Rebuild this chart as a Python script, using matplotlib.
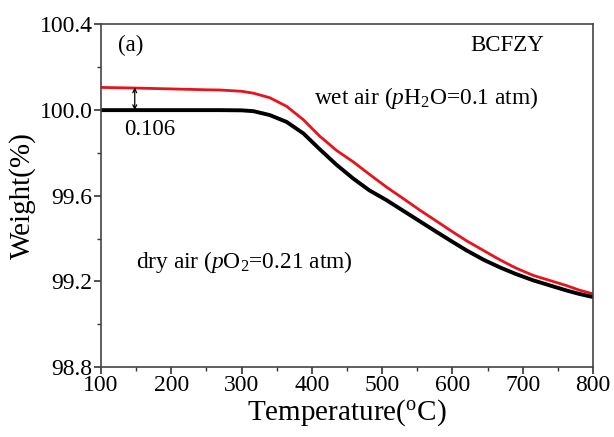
import numpy as np
import matplotlib
matplotlib.use('Agg')
import matplotlib.pyplot as plt
from matplotlib.ticker import MultipleLocator

plt.rcParams['font.family'] = 'Liberation Serif'
plt.rcParams['mathtext.fontset'] = 'custom'
plt.rcParams['mathtext.rm'] = 'Liberation Serif'
plt.rcParams['mathtext.it'] = 'Liberation Serif:italic'

temp_dry = [100, 200, 269, 300, 317, 340, 364, 388, 411, 435, 459, 482, 506, 530, 554,
            578, 600, 620, 645, 668, 690, 715, 740, 762, 780, 800]
weight_dry = [100.0, 100.0, 100.0, 99.999, 99.995, 99.977, 99.945, 99.891, 99.818, 99.745,
              99.68, 99.625, 99.58, 99.53, 99.48, 99.43, 99.385, 99.345, 99.30, 99.265,
              99.235, 99.205, 99.18, 99.158, 99.142, 99.127]
temp_wet = [100, 150, 200, 250, 269, 300, 317, 340, 364, 388, 411, 435, 459, 482, 506,
            530, 554, 578, 600, 620, 645, 668, 690, 715, 740, 762, 780, 800]
weight_wet = [100.106, 100.103, 100.099, 100.095, 100.094, 100.088, 100.079, 100.058,
              100.018, 99.955, 99.879, 99.812, 99.758, 99.70, 99.641, 99.587, 99.532,
              99.48, 99.432, 99.39, 99.343, 99.30, 99.263, 99.228, 99.203, 99.181,
              99.16, 99.142]
gap = 0.106

fig = plt.figure(figsize=(6.14, 4.37), dpi=100)
ax = fig.add_axes([0.1645, 0.160, 0.8013, 0.784])

ax.plot(temp_wet, weight_wet, color='#e8131b', lw=2.0)
ax.plot(temp_dry, weight_dry, color='black', lw=2.8)

ax.annotate('', xy=(148, 100.0), xytext=(148, 100.0 + gap),
            arrowprops=dict(arrowstyle='<->', color='black', lw=0.9,
                            shrinkA=0, shrinkB=0, mutation_scale=7))
ax.text(133, 99.91, '%.3f' % gap, fontsize=16.5, va='center')
ax.text(124, 100.304, '(a)', fontsize=16.5, va='center')
ax.text(731, 100.304, 'BCFZY', fontsize=16.5, va='center', ha='right')
ax.text(403, 100.056, r'wet air ($p$H$_2$O=0.1 atm)', fontsize=16.8, va='center')
ax.text(150, 99.289, r'dry air ($p$O$_2$=0.21 atm)', fontsize=16.8, va='center')

ax.set_xlim(100, 800)
ax.set_ylim(98.8, 100.4)
ax.xaxis.set_major_locator(MultipleLocator(100))
ax.xaxis.set_minor_locator(MultipleLocator(50))
ax.yaxis.set_major_locator(MultipleLocator(0.4))
ax.yaxis.set_minor_locator(MultipleLocator(0.2))
ax.yaxis.set_major_formatter(plt.FormatStrFormatter('%.1f'))
ax.tick_params(which='major', direction='out', length=5, width=1.2, labelsize=17,
               colors='#333333', labelcolor='black', pad=1)
ax.tick_params(which='minor', direction='out', length=3, width=1.0, colors='#333333')
for s in ax.spines.values():
    s.set_color('#444444')
    s.set_linewidth(1.2)

ax.set_xlabel(r'Temperature($^{\mathrm{o}}$C)', fontsize=21, labelpad=1)
ax.set_ylabel('Weight(%)', fontsize=21, labelpad=3)

plt.savefig('out.png', dpi=100)
